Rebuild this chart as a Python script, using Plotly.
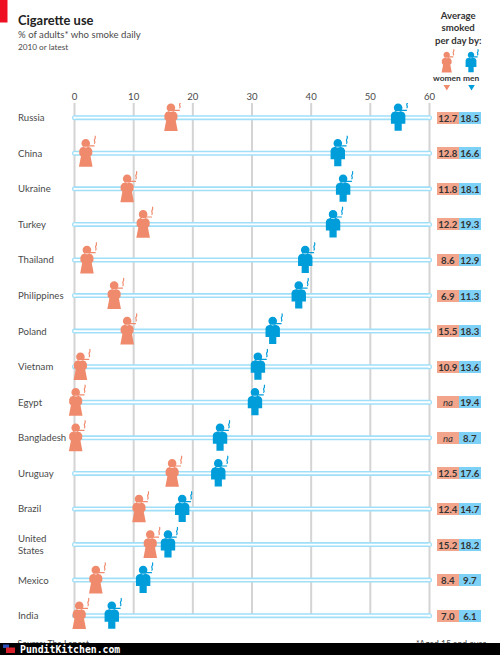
import plotly.graph_objects as go

countries = ["Russia", "China", "Ukraine", "Turkey", "Thailand", "Philippines", "Poland", "Vietnam",
             "Egypt", "Bangladesh", "Uruguay", "Brazil", "United<br>States", "Mexico", "India"]
women_pct = [16.3, 1.9, 8.9, 11.6, 2.1, 6.7, 8.9, 1.0, 0.2, 0.2, 16.5, 10.9, 12.8, 3.6, 0.8]
men_pct = [54.7, 44.5, 45.4, 43.7, 39.0, 37.9, 33.5, 31.0, 30.5, 24.6, 24.3, 18.2, 15.8, 11.6, 6.3]
women_per_day = ["12.7", "12.8", "11.8", "12.2", "8.6", "6.9", "15.5", "10.9", "na", "na", "12.5", "12.4", "15.2", "8.4", "7.0"]
men_per_day = ["18.5", "16.6", "18.1", "19.3", "12.9", "11.3", "18.3", "13.6", "19.4", "8.7", "17.6", "14.7", "18.2", "9.7", "6.1"]
x_ticks = [0, 10, 20, 30, 40, 50, 60]

W, H = 500, 655
PLOT_TOP, PLOT_BOTTOM = 103, 643
X_ZERO, X_SCALE = 74.5, 355 / 60
ROW_ZERO, ROW_STEP = 117.7, 35.57

WOMAN = "#f08a6c"
MAN = "#009ddb"
WOMAN_BOX = "#f3a58c"
MAN_BOX = "#7dd0f6"
PIPE = "#9fdff8"
GRID = "#d4d4d4"
TEXT = "#4a4a4a"
FONT = "Lato"
TEXT_PAD = 1.5  # annotations sit this far inside their anchor

rows = list(range(len(countries)))


def px_x(px):
    return px / W


def px_y(py):
    return (PLOT_BOTTOM - py) / (PLOT_BOTTOM - PLOT_TOP)


def circle(cx, cy, r):
    k = 0.5523 * r
    return (f"M{cx - r},{cy} C{cx - r},{cy + k} {cx - k},{cy + r} {cx},{cy + r} "
            f"C{cx + k},{cy + r} {cx + r},{cy + k} {cx + r},{cy} "
            f"C{cx + r},{cy - k} {cx + k},{cy - r} {cx},{cy - r} "
            f"C{cx - k},{cy - r} {cx - r},{cy - k} {cx - r},{cy} Z")


def poly(points, s):
    return "M" + " L".join(f"{x * s},{y * s}" for x, y in points) + " Z"


def woman_path(s=1.0):
    body = [(-2.5, 6.4), (2.5, 6.4), (5, 5.4), (6.5, 3), (6.5, -1), (4.8, -3), (6.8, -13.4),
            (-6.8, -13.4), (-4.8, -3), (-6.5, -1), (-6.5, 3), (-5, 5.4)]
    return circle(0, 10 * s, 4.3 * s) + " " + poly(body, s)


def man_path(s=1.0):
    body = [(-3, 6.4), (3, 6.4), (6, 5.2), (7.2, 3), (7.2, -6), (3.6, -6), (3.6, -13), (-3.6, -13),
            (-3.6, -6), (-7.2, -6), (-7.2, 3), (-6, 5.2)]
    return circle(0, 10 * s, 4.3 * s) + " " + poly(body, s)


def smoke_path(s=1.0):
    return (f"M{2 * s},{7.4 * s} L{8.8 * s},{7.4 * s} "
            f"M{8.4 * s},{9.6 * s} C{10.8 * s},{11 * s} {7.4 * s},{12.6 * s} {9 * s},{14.2 * s} "
            f"C{10.2 * s},{15.4 * s} {9 * s},{16.4 * s} {9.6 * s},{17.6 * s}")


def icon(path_fn, color, anchor_x, anchor_y, xref, yref, s=1.0):
    common = dict(type="path", xref=xref, yref=yref, xsizemode="pixel", ysizemode="pixel",
                  xanchor=anchor_x, yanchor=anchor_y, layer="above")
    return [
        dict(path=path_fn(s), fillcolor=color, line=dict(width=0), **common),
        dict(path=smoke_path(s), fillcolor="rgba(0,0,0,0)", line=dict(color=color, width=1.2), **common),
    ]


def label(text, px, py, size, color=TEXT, anchor="left", family=FONT):
    x = px - TEXT_PAD if anchor == "left" else px
    return dict(text=text, xref="paper", yref="paper", x=px_x(x), y=px_y(py), xanchor=anchor, yanchor="middle",
                showarrow=False, align=anchor, font=dict(family=family, size=size, color=color))


fig = go.Figure()

# Grid stops at the last row, so it is drawn as shapes rather than axis gridlines
shapes = [dict(type="line", xref="x", yref="y", x0=t, x1=t, y0=rows[0] - (ROW_ZERO - PLOT_TOP) / ROW_STEP,
               y1=rows[-1], line=dict(color=GRID, width=2), layer="below") for t in x_ticks]

# Each country's scale is a pale tube: a wide blue line with a white core
pipe_x, pipe_y = [], []
for r in rows:
    pipe_x += [x_ticks[0], x_ticks[-1], None]
    pipe_y += [r, r, None]
fig.add_trace(go.Scatter(x=pipe_x, y=pipe_y, mode="lines+markers", line=dict(color=PIPE, width=5),
                         marker=dict(size=5, color=PIPE, line=dict(width=0)), hoverinfo="skip"))
fig.add_trace(go.Scatter(x=pipe_x, y=pipe_y, mode="lines+markers", line=dict(color="white", width=1.8),
                         marker=dict(size=2.4, color="white", line=dict(width=0)), hoverinfo="skip"))

for r in rows:
    shapes += icon(woman_path, WOMAN, women_pct[r], r, "x", "y")
    shapes += icon(man_path, MAN, men_pct[r], r, "x", "y")

# Key in the top-right corner
shapes += icon(woman_path, WOMAN, px_x(446.7), px_y(62.5), "paper", "paper", 0.75)
shapes += icon(man_path, MAN, px_x(471), px_y(62.5), "paper", "paper", 0.75)
for cx, color in ((446.8, WOMAN), (471.5, MAN)):
    shapes.append(dict(type="path", xref="paper", yref="paper", xsizemode="pixel", ysizemode="pixel",
                       xanchor=px_x(cx), yanchor=px_y(85), path="M-3.3,0 L3.3,0 L0,-5.5 Z",
                       fillcolor=color, line=dict(width=0)))

# Red tab and footer strip
shapes.append(dict(type="rect", xref="paper", yref="paper", x0=0, x1=px_x(7.5), y0=px_y(22.5), y1=px_y(0),
                   fillcolor="#ee0f23", line=dict(width=0)))
shapes.append(dict(type="rect", xref="paper", yref="paper", x0=0, x1=1, y0=px_y(H), y1=px_y(643),
                   fillcolor="black", line=dict(width=0), layer="above"))
shapes.append(dict(type="rect", xref="paper", yref="paper", x0=px_x(3), x1=px_x(9), y0=px_y(648), y1=px_y(644.5),
                   fillcolor="#2b4fb5", line=dict(width=0), layer="above"))
shapes.append(dict(type="rect", xref="paper", yref="paper", x0=px_x(6), x1=px_x(15), y0=px_y(653), y1=px_y(647.5),
                   fillcolor="#d8202a", line=dict(width=0), layer="above"))

annotations = [
    label("<b>Cigarette use</b>", 17.5, 20, 12.9, "#222222"),
    label("% of adults* who smoke daily", 17.5, 34.5, 9.6),
    label("2010 or latest", 17.5, 47, 8.2),
    label("<b>Average<br>smoked<br>per day by:</b>", 458, 28.5, 9.6, "#333333", "center"),
    label("<b>women</b>", 446.7, 78, 8.4, "#333333", "center"),
    label("<b>men</b>", 471, 78, 8.4, "#333333", "center"),
    label("<b>PunditKitchen.com</b>", 19.5, 649.5, 9.8, "white", family="DejaVu Sans Mono"),
]

for r, name in enumerate(countries):
    annotations.append(dict(text=name, xref="paper", yref="y", x=px_x(17.5 - TEXT_PAD), y=r, xanchor="left",
                            yanchor="middle", showarrow=False, align="left",
                            font=dict(family=FONT, size=9.6, color=TEXT)))
    for value, cx, fill in ((women_per_day[r], 448.3, WOMAN_BOX), (men_per_day[r], 470, MAN_BOX)):
        shown = "<i>na</i>" if value == "na" else f"<b>{value}</b>"
        annotations.append(dict(text=shown, xref="paper", yref="y", x=px_x(cx), y=r, xanchor="center",
                                yanchor="middle", showarrow=False, width=22, height=12, bgcolor=fill, borderpad=0,
                                borderwidth=0, align="center", font=dict(family=FONT, size=9.6, color="#333333")))

# Notes run under the footer strip, so they sit in a clipped text trace
fig.add_trace(go.Scatter(
    x=[(17.5 - X_ZERO) / X_SCALE, (416 - X_ZERO) / X_SCALE],
    y=[(644.5 - ROW_ZERO) / ROW_STEP] * 2,
    mode="text", text=["Source: The Lancet", "*Aged 15 and over"], textposition="middle right",
    textfont=dict(family=FONT, size=8.6, color=TEXT), cliponaxis=True, hoverinfo="skip"))

fig.update_layout(
    width=W, height=H, autosize=False, showlegend=False, hovermode=False,
    margin=dict(l=0, r=0, t=PLOT_TOP, b=H - PLOT_BOTTOM, pad=0),
    paper_bgcolor="white", plot_bgcolor="white",
    xaxis=dict(range=[-X_ZERO / X_SCALE, (W - X_ZERO) / X_SCALE], side="top", tickmode="array", tickvals=x_ticks,
               showgrid=False, zeroline=False, showline=False, ticks="", tickfont=dict(family=FONT, size=9.6, color=TEXT)),
    yaxis=dict(range=[(PLOT_BOTTOM - ROW_ZERO) / ROW_STEP, (PLOT_TOP - ROW_ZERO) / ROW_STEP], visible=False),
    shapes=shapes, annotations=annotations,
)
fig.write_html("out.html")
